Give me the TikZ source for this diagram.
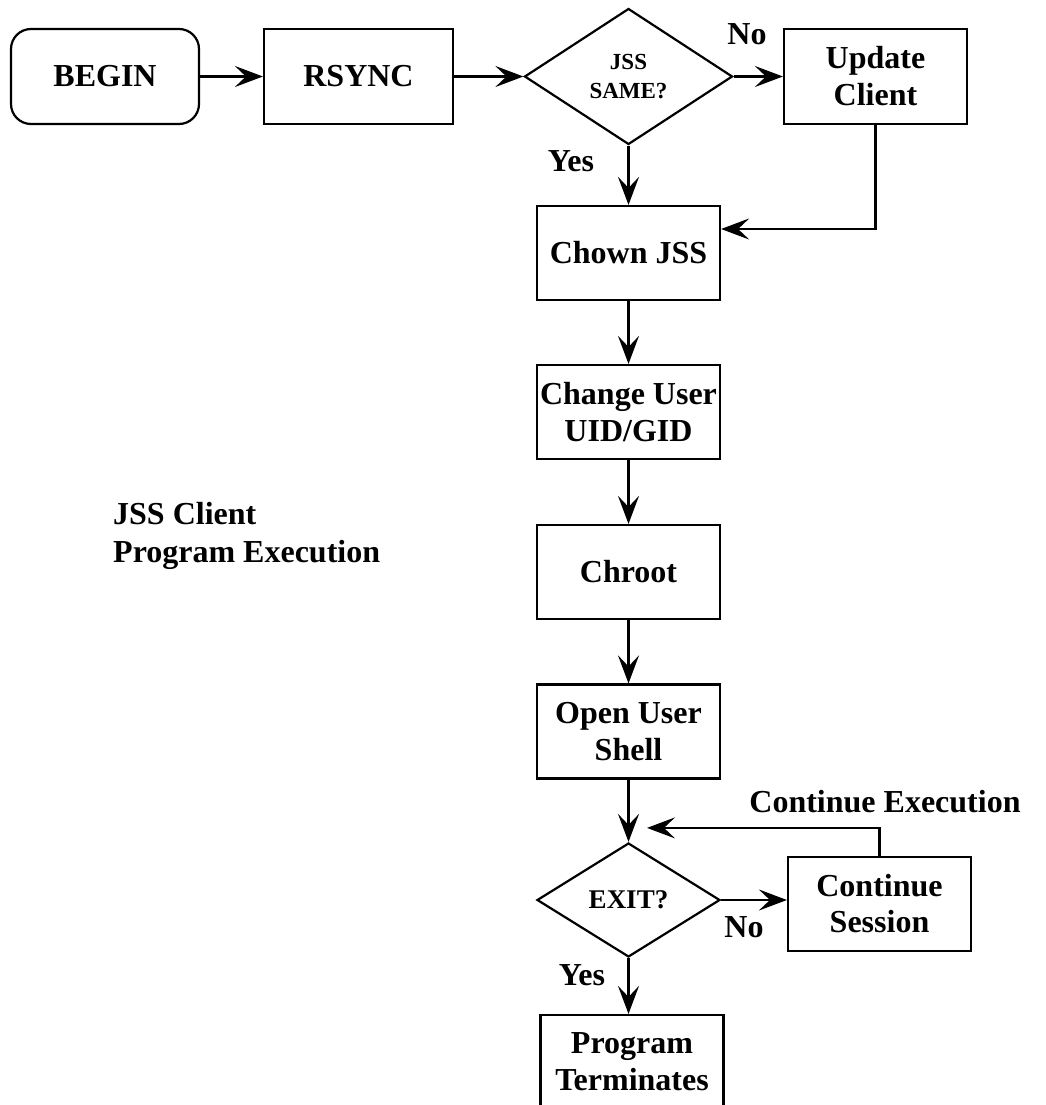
\documentclass[tikz,border=0pt]{standalone}
\usepackage{fontspec}
\setmainfont{Liberation Serif}
\usetikzlibrary{shapes.geometric,arrows.meta,calc}

\begin{document}
\begin{tikzpicture}[x=1pt,y=-1pt,
  lbl/.style={font=\bfseries\fontsize{32}{38}\selectfont},
  box/.style={draw,line width=2.2pt,minimum width=183pt,minimum height=94pt,
    inner sep=0pt,align=center,font=\bfseries\fontsize{32}{37}\selectfont},
  startbox/.style={box,rounded corners=20pt,minimum width=188pt,minimum height=95pt},
  decide/.style={draw,diamond,line width=2.2pt,inner sep=0pt,align=center},
  flow/.style={line width=2.2pt,arrows={-Stealth[length=28pt,width=21pt,inset=11pt]}}]

\useasboundingbox (0,0) rectangle (1045,1105);
\clip (0,0) rectangle (1045,1105);

% top row
\node[startbox] (begin) at (105,76.5) {BEGIN};
\node[box,minimum width=189pt,minimum height=95pt] (rsync) at (358.5,76.5) {RSYNC};
\node[decide,minimum width=208pt,minimum height=136pt,
      font=\bfseries\fontsize{23}{29}\selectfont] (same) at (628.5,76.5) {JSS\\SAME?};
\node[box,minimum height=95pt] (update) at (875.5,76.5) {Update\\Client};

% main column
\node[box] (chown)  at (628.5,253)   {Chown JSS};
\node[box] (change) at (628.5,412)   {Change User\\UID/GID};
\node[box] (chroot) at (628.5,572)   {Chroot};
\node[box] (open)   at (628.5,731.5) {Open User\\Shell};
\node[decide,minimum width=183pt,minimum height=114pt,
      font=\bfseries\fontsize{27}{32}\selectfont] (exit) at (628.5,900) {EXIT?};
\node[box,font=\bfseries\fontsize{32}{36}\selectfont] (cont) at (879.5,904) {Continue\\Session};
\node[box] (prog) at (632,1062) {Program\\Terminates};

% labels
\node[lbl] (no1)  at (747,34)  {No};
\node[lbl] (yes1) at (571,161) {Yes};
\node[lbl] (no2)  at (744,927) {No};
\node[lbl] (yes2) at (582,975) {Yes};
\node[lbl] (contexec) at (885,802) {Continue Execution};
\node[lbl,anchor=north west,align=left,inner sep=0pt] (title) at (113,502)
  {JSS Client\\Program Execution};

% connectors
\draw[flow] (begin.east) -- (rsync.west);
\draw[flow] (rsync.east) -- (same.west);
\draw[flow] (same.east) -- (update.west);
\draw[flow] (same.south) -- (chown.north);
\draw[flow] (update.south) |- ([yshift=24pt]chown.east);
\draw[flow] (chown.south) -- (change.north);
\draw[flow] (change.south) -- (chroot.north);
\draw[flow] (chroot.south) -- (open.north);
\draw[flow] (open.south) -- (exit.north);
\draw[flow] (exit.east) -- (exit.east -| cont.west);
\coordinate (loopend) at ([xshift=18.5pt,yshift=14pt]exit.north);
\draw[flow] (cont.north) |- (loopend);
\draw[flow] (exit.south) -- (exit.south |- prog.north);
\end{tikzpicture}
\end{document}
